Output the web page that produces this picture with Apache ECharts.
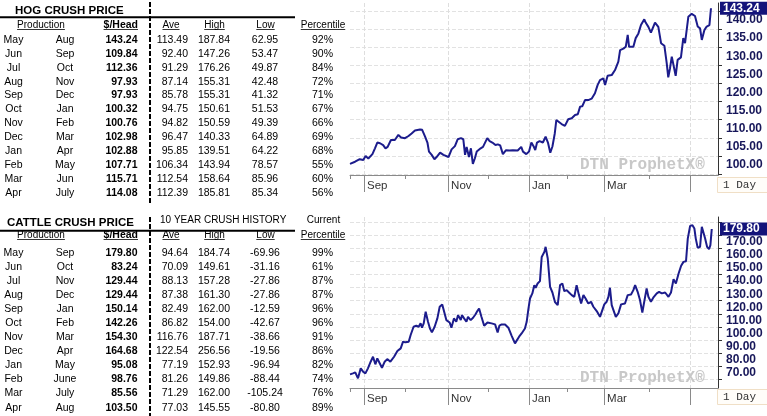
<!DOCTYPE html>
<html><head><meta charset="utf-8">
<script src="https://cdn.jsdelivr.net/npm/echarts@6/dist/echarts.min.js"></script>
<style>html,body{margin:0;padding:0;background:#fff}#c{width:767px;height:416px}</style>
</head><body><div id="c"></div>
<script>
// ---------------- table data ----------------
const hogStart = ['May','Jun','Jul','Aug','Sep','Oct','Nov','Dec','Jan','Feb','Mar','Apr'];
const hogEnd   = ['Aug','Sep','Oct','Nov','Dec','Jan','Feb','Mar','Apr','May','Jun','July'];
const hogHead  = [143.24,109.84,112.36,97.93,97.93,100.32,100.76,102.98,102.88,107.71,115.71,114.08];
const hogAve   = [113.49,92.40,91.29,87.14,85.78,94.75,94.82,96.47,95.85,106.34,112.54,112.39];
const hogHigh  = [187.84,147.26,176.26,155.31,155.31,150.61,150.59,140.33,139.51,143.94,158.64,185.81];
const hogLow   = [62.95,53.47,49.87,42.48,41.32,51.53,49.39,64.89,64.22,78.57,85.96,85.34];
const hogPct   = [92,90,84,72,71,67,66,69,68,55,60,56];

const cattleStart = ['May','Jun','Jul','Aug','Sep','Oct','Nov','Dec','Jan','Feb','Mar','Apr'];
const cattleEnd   = ['Sep','Oct','Nov','Dec','Jan','Feb','Mar','Apr','May','June','July','Aug'];
const cattleHead  = [179.80,83.24,129.44,129.44,150.14,142.26,154.30,164.68,95.08,98.76,85.56,103.50];
const cattleAve   = [94.64,70.09,88.13,87.38,82.49,86.82,116.76,122.54,77.19,81.26,71.29,77.03];
const cattleHigh  = [184.74,149.61,157.28,161.30,162.00,154.00,187.71,256.56,152.93,149.86,162.00,145.55];
const cattleLow   = [-69.96,-31.16,-27.86,-27.86,-12.59,-42.67,-38.66,-19.56,-96.94,-88.44,-105.24,-80.80];
const cattlePct   = [99,61,87,87,96,96,91,86,82,74,76,89];

const tableHeaders = ['Production','$/Head','Ave','High','Low','Percentile'];

// ---------------- chart data (x = trading-day index) ----------------
const monthIdx    = [7.2, 28.2, 50.3, 70.8, 91.8, 111.3, 130.3, 153.3, 174.4];
const monthNames  = ['Sep','Oct','Nov','Dec','Jan','Feb','Mar','Apr','May'];
const labeledMonths = ['Sep','Nov','Jan','Mar'];
const majorMonths   = ['Sep','Nov','Jan','Mar','May'];
const xMax = 188.7;

const hogX = [0,2.6,5,6.8,8,9.4,11.5,12.8,14,15.4,17,18.2,19.3,21,23,24.8,26.2,28.2,30,31.6,33.3,35.9,37,38.5,39.7,40.5,41.9,43.3,44.4,46.2,47.9,50.5,52.1,53.8,55.2,56.9,58.1,59,59.8,61,62,63,64,65,67,68.2,69.2,70.4,71.6,73,74.6,75.8,77,78.4,80,81.8,83.5,86,87.8,88.7,90.4,91.8,93,94.2,95,95.9,97.2,98.9,100.3,101.5,102.7,103.8,105,105.8,106.8,108.5,110.2,111.9,113.7,115.4,116.8,118,119.1,120.5,122.2,123.9,125.6,127,128.2,129,129.9,130.8,132.1,134.2,135.9,137.6,138.5,140.2,141.4,142.4,143.1,145.3,146.5,147.9,149.2,150.9,151.6,153,154.3,156.4,158.1,159.5,161.2,162.4,163.2,164.1,165,165.8,167,168,169.7,170.9,171.8,173.5,175.2,176.9,178.3,179.5,180.4,181.7,182.9,184.3,185.1];
const hogY = [100.3,100.9,101.6,101.4,102.5,101.8,103.0,104.6,106.2,106.0,105.5,104.6,105.0,106.9,106.9,108.3,107.6,107.4,108.0,108.7,109.5,109.8,109.7,107.8,106.2,103.7,102.8,101.6,102.2,103.4,102.8,102.2,104.3,105.2,107.1,107.4,107.1,102.8,105.0,102.2,104.6,100.3,101.8,103.7,104.6,105.0,105.0,107.4,106.6,106.2,105.5,105.7,105.4,103.0,104.1,104.0,104.1,104.0,105.0,103.7,103.0,103.7,106.2,105.1,104.1,106.2,106.6,106.2,107.8,106.2,103.4,105.1,108.7,112.4,112.0,111.3,110.8,112.6,112.9,113.8,114.0,116.1,116.2,117.9,117.9,118.3,119.8,122.1,123.4,123.0,123.9,122.1,124.6,124.8,126.2,128.5,131.7,132.1,132.6,135.9,132.6,132.6,135.0,136.3,138.6,140.2,139.3,138.1,136.5,139.3,138.1,133.6,132.9,128.1,124.2,126.7,129.9,129.4,124.6,129.0,129.7,135.0,133.6,140.9,141.7,141.1,138.2,137.7,134.5,137.2,138.2,138.6,143.24];

const cattleX = [0,1.5,2.7,4.1,5.5,6.7,7.9,9.2,10.6,11.8,13,14,15,16.4,17.8,19.1,20.7,22.6,24.3,26,27.2,28.4,30.1,31.1,32.6,34,35.2,36.2,36.9,37.8,38.8,40,41,42,43.4,44.8,46,47.3,48.2,49.4,51.1,52,53.3,54.5,55.4,56.8,57.4,58.5,59.7,60.5,61.9,63.1,64.3,65.3,66.2,67.4,68.8,70.5,72.6,74.4,75.7,76.6,77.8,79.5,81.2,82.9,84.6,85.5,86.7,88,89.7,90.6,91.4,92.3,93.5,94.5,95.2,96.2,97.4,98.3,99.7,100.3,101.4,102.6,103.8,105.1,106.5,107.7,108.9,109.9,111.1,112.3,113.7,115,116.2,117.4,118.5,119.7,120.8,122.2,123.6,124.8,126.5,128.2,129.1,130.4,131.6,132.5,133.3,134.2,135.1,136.3,137.6,139,141,142.4,144.1,145.3,146.2,147.5,148.7,149.9,150.9,152.1,153,154.3,155.5,157.3,158.5,159.9,161.6,163.3,164.6,165.9,167.1,168.5,169.8,171,172.3,173.2,174.4,175.6,176.6,177.3,178.3,179.5,180.4,181.4,182.1,183.1,184.1,184.8,185.5];
const cattleY = [68.7,69.5,70.3,65.7,73.3,70.8,69.5,73.3,78.4,82.2,76.4,80.9,80.4,73.8,78.4,80.4,78.4,82.2,86.5,88.6,93.7,93.2,93.7,98.8,105.1,105.9,105.1,107.7,104.4,107.7,116.6,108.9,103.8,100.8,105.1,111.5,120.4,122.2,122.9,110.2,108.4,104.4,111.5,108.9,114.0,110.2,114.0,111.5,108.9,112.7,110.2,112.0,114.5,117.1,119.1,112.7,105.9,108.4,107.7,106.9,100.8,105.9,106.9,106.9,104.4,98.2,92.4,93.7,97.5,100.0,103.8,108.9,117.8,126.7,130.6,136.9,134.9,138.2,140.0,158.5,162.4,166.2,157.3,135.6,131.3,124.0,121.7,136.9,138.2,132.3,133.1,131.3,129.3,128.0,136.9,129.3,122.9,129.3,126.7,122.9,124.2,120.4,117.1,112.7,113.5,122.2,124.2,128.0,134.9,121.7,120.4,112.7,115.3,122.2,122.9,129.3,129.8,133.1,136.9,131.8,125.5,116.0,116.0,134.4,128.0,124.2,127.3,130.6,131.8,130.6,131.3,128.0,131.3,141.5,138.2,145.8,151.7,154.7,155.2,172.5,182.2,182.7,180.2,172.5,165.4,166.2,181.5,182.2,172.5,166.2,164.4,167.5,179.8];

const hogLabels   = [100,105,110,115,120,125,130,135,140];
const hogTicks    = [97.5,102.5,107.5,112.5,117.5,122.5,127.5,132.5,137.5,142.5];
const cattleLabels= [70,80,90,100,110,120,130,140,150,160,170];
const cattleTicks = [65,75,85,95,105,115,125,135,145,155,165,175,185];

// ---------------- helpers ----------------
const SANS = '"Liberation Sans", Arial, sans-serif';
const MONO = '"Liberation Mono", "DejaVu Sans Mono", monospace';
const mctx = document.createElement('canvas').getContext('2d');
function tw(str, font){ mctx.font = font; return mctx.measureText(str).width; }
function txt(x, y, s, align, font, fill){
  return {type:'text', x:x, y:y, silent:true, z:10,
    style:{text:s, font:font, fill:fill||'#000', textAlign:align, align:align, textVerticalAlign:'middle', verticalAlign:'middle'}};
}
function ln(x1,y1,x2,y2,w,dash,z){
  return {type:'line', silent:true, z:z||11, shape:{x1:x1,y1:y1,x2:x2,y2:y2},
    style:{stroke:'#000', lineWidth:w, lineDash:dash||null}};
}

function table(cfg){
  const els = [];
  const F  = '10.5px ' + SANS, FB = 'bold 10.5px ' + SANS, FH = '10px ' + SANS, FHB = 'bold 10.5px ' + SANS;
  els.push(txt(cfg.titleX, cfg.titleY, cfg.title, 'left', 'bold 11.5px ' + SANS));
  if (cfg.history){
    els.push(txt(160, cfg.historyY, cfg.history, 'left', FH));
    els.push(txt(323.5, cfg.historyY, cfg.current, 'center', FH));
  }
  const hx = [41,138,171,214.5,265.5,323];
  const ha = ['center','right','center','center','center','center'];
  tableHeaders.forEach((h,i)=>{
    const f = i===1 ? FHB : FH;
    els.push(txt(hx[i], cfg.headerY, h, ha[i], f));
    const w = tw(h, f);
    let x0 = ha[i]==='center' ? hx[i]-w/2 : (ha[i]==='right' ? hx[i]-w : hx[i]);
    els.push(ln(x0, cfg.headerY+4.5, x0+w, cfg.headerY+4.5, 0.8));
  });
  cfg.start.forEach((m,i)=>{
    const y = cfg.rowY0 + i*cfg.rowStep;
    els.push(txt(13.5, y, m, 'center', F));
    els.push(txt(65, y, cfg.end[i], 'center', F));
    els.push(txt(137.5, y, cfg.head[i].toFixed(2), 'right', FB));
    els.push(txt(188, y, cfg.ave[i].toFixed(2), 'right', F));
    els.push(txt(230, y, cfg.high[i].toFixed(2), 'right', F));
    els.push(txt(265, y, cfg.low[i].toFixed(2), 'center', F));
    els.push(txt(333, y, cfg.pct[i] + '%', 'right', F));
  });
  els.push(ln(0, cfg.lineY, 295, cfg.lineY, 2, null, 12));
  els.push(ln(150, cfg.dashTop, 150, cfg.dashBottom, 2, [5,2], 12));
  return els;
}

const graphics = [].concat(
  table({title:'HOG CRUSH PRICE', titleX:15, titleY:11, lineY:17.3, headerY:25, rowY0:40, rowStep:13.88,
    dashTop:2, dashBottom:203, start:hogStart, end:hogEnd, head:hogHead, ave:hogAve, high:hogHigh, low:hogLow, pct:hogPct}),
  table({title:'CATTLE CRUSH PRICE', titleX:7, titleY:223.3, history:'10 YEAR CRUSH HISTORY', current:'Current', historyY:220,
    lineY:230.7, headerY:235, rowY0:252.7, rowStep:14.09, dashTop:217, dashBottom:416,
    start:cattleStart, end:cattleEnd, head:cattleHead, ave:cattleAve, high:cattleHigh, low:cattleLow, pct:cattlePct})
);
[[165, 177.5, 185],[378, 389.5, 397]].forEach(p=>{
  graphics.push({type:'text', x:580, y:p[0], silent:true, z:1,
    style:{text:'DTN ProphetX®', font:'bold 16px ' + MONO, fill:'#c8c8c8', textAlign:'left', align:'left', textVerticalAlign:'middle', verticalAlign:'middle'}});
  graphics.push({type:'rect', silent:true, z:5, shape:{x:717.5, y:p[1], width:52, height:15},
    style:{fill:'#fffdf9', stroke:'#f0dfc6', lineWidth:1}});
  graphics.push(txt(723, p[2], '1 Day', 'left', '11px ' + MONO, '#333'));
});

// ---------------- axes ----------------
const majorIdx = monthIdx.filter((v,i)=>majorMonths.includes(monthNames[i]));
const minorIdx = [0].concat(monthIdx.filter((v,i)=>!majorMonths.includes(monthNames[i])));
const labelIdx = monthIdx.filter((v,i)=>labeledMonths.includes(monthNames[i]));

function xAxes(g){
  return [{
    type:'value', gridIndex:g, min:0, max:xMax, position:'bottom',
    axisLine:{show:true, onZero:false, lineStyle:{color:'#8a8a8a', width:1}},
    axisTick:{show:true, customValues:majorIdx, length:17, lineStyle:{color:'#8a8a8a'}},
    axisLabel:{show:true, customValues:labelIdx, formatter:v=>monthNames[monthIdx.indexOf(v)] || '',
      align:'left', padding:[0,0,0,3], margin:5, color:'#333', fontSize:11.5, fontFamily:SANS},
    splitLine:{show:true, lineStyle:{type:'dashed', color:'#dedede'}}
  },{
    type:'value', gridIndex:g, min:0, max:xMax, position:'bottom',
    axisLine:{show:false, onZero:false},
    axisTick:{show:true, customValues:minorIdx, length:4, lineStyle:{color:'#8a8a8a'}},
    axisLabel:{show:false}, splitLine:{show:false}
  }];
}
function yAxis(g, min, max, labels, ticks){
  return {
    type:'value', gridIndex:g, position:'right', min:min, max:max,
    axisLine:{show:true, onZero:false, lineStyle:{color:'#333', width:1}},
    axisTick:{show:true, customValues:ticks, length:4, lineStyle:{color:'#333'}},
    axisLabel:{show:true, customValues:labels, formatter:v=>v.toFixed(2), margin:8,
      color:'#17175a', fontWeight:'bold', fontSize:12, fontFamily:SANS},
    splitLine:{show:true, lineStyle:{type:'dashed', color:'#e2e2e2'}}
  };
}
function zip(xs, ys){ return xs.map((x,i)=>[x, ys[i]]); }
function lineSeries(xi, yi, data){
  const last = data[data.length-1][1];
  return {
    type:'line', xAxisIndex:xi, yAxisIndex:yi, data:data, symbol:'none', z:3,
    lineStyle:{color:'#1c1c8c', width:2},
    markLine:{silent:true, symbol:'none', animation:false, precision:2,
      lineStyle:{color:'rgba(0,0,0,0)', width:1, type:'solid'},
      label:{show:true, position:'end', distance:2, formatter:()=>last.toFixed(2),
        backgroundColor:'#13137a', color:'#fff', fontWeight:'bold', fontSize:12, fontFamily:SANS,
        padding:[1,8,0,3]},
      data:[{yAxis:last}]}
  };
}

const chart = echarts.init(document.getElementById('c'), null, {renderer:'canvas'});
chart.setOption({
  animation:false,
  backgroundColor:'#fff',
  grid:[{left:350, right:49, top:3, height:172}, {left:350, right:49, top:217, height:171}],
  xAxis: xAxes(0).concat(xAxes(1)),
  yAxis:[yAxis(0, 97.24, 144.69, hogLabels, hogTicks), yAxis(1, 58.3, 189.0, cattleLabels, cattleTicks)],
  series:[lineSeries(0, 0, zip(hogX, hogY)), lineSeries(2, 1, zip(cattleX, cattleY))],
  graphic: graphics
});
</script></body></html>
